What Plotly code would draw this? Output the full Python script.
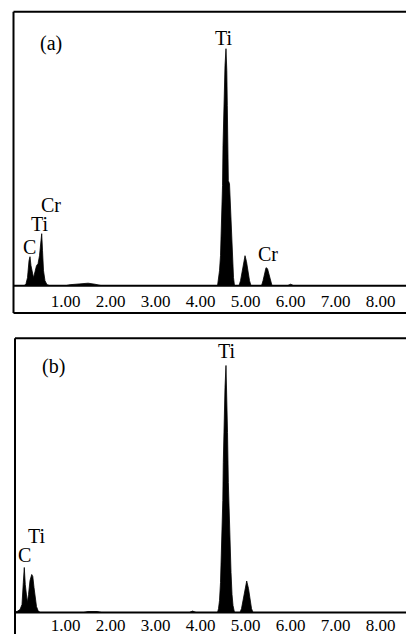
import plotly.graph_objects as go

# ---- data (energy in keV, intensity in arbitrary units) ----
energy_a = [-0.15, 0.08, 0.12, 0.153, 0.187, 0.209, 0.231, 0.264, 0.287, 0.32, 0.353, 0.387,
            0.42, 0.453, 0.469, 0.487, 0.509, 0.542, 0.587, 0.653,
            1.0, 1.1, 1.3, 1.5, 1.65, 1.8,
            4.376, 4.398, 4.42, 4.442, 4.464, 4.487, 4.498, 4.509, 4.527, 4.542, 4.564,
            4.582, 4.593, 4.604, 4.616, 4.642, 4.664, 4.687, 4.709, 4.731, 4.753,
            4.853, 4.887, 4.92, 4.953, 4.987, 5.02, 5.053, 5.087, 5.12,
            5.353, 5.387, 5.42, 5.453, 5.487, 5.52, 5.553, 5.587,
            5.93, 6.0, 6.07, 8.6]
counts_a = [0, 0, 2, 8, 25, 29, 20, 10, 8, 14, 20, 22,
            30, 45, 52, 35, 15, 5, 1, 0,
            0, 1, 2, 2.5, 1.5, 0,
            0, 6, 15, 30, 55, 100, 140, 170, 200, 220, 237,
            215, 180, 140, 105, 102, 80, 50, 22, 8, 0,
            0, 5, 14, 24, 30, 24, 13, 5, 0,
            0, 5, 13, 18, 17, 11, 5, 0,
            0, 1.5, 0, 0]

energy_b = [-0.15, -0.08, -0.013, 0.031, 0.06, 0.082, 0.104, 0.131, 0.149, 0.176, 0.209,
            0.247, 0.271, 0.298, 0.327, 0.353, 0.387, 0.431,
            1.4, 1.5, 1.7, 1.8, 3.75, 3.82, 3.9,
            4.376, 4.398, 4.42, 4.442, 4.464, 4.482, 4.493, 4.504, 4.52, 4.542, 4.564,
            4.582, 4.598, 4.616, 4.631, 4.653, 4.676, 4.698, 4.72, 4.753,
            4.876, 4.909, 4.942, 4.976, 5.024, 5.064, 5.098, 5.131, 5.164, 8.6]
counts_b = [0.5, 1, 3, 8, 30, 45, 28, 12, 10, 18, 32,
            38, 36, 25, 14, 6, 2, 0,
            0, 1, 1, 0, 0, 1.5, 0,
            0, 4, 12, 30, 60, 100, 112, 150, 190, 225, 247,
            220, 180, 130, 100, 70, 40, 18, 7, 0,
            0, 4, 12, 23, 31.5, 24, 13, 4, 0, 0]

tick_vals = [1, 2, 3, 4, 5, 6, 7, 8]
tick_text = ["1.00", "2.00", "3.00", "4.00", "5.00", "6.00", "7.00", "8.00"]

labels_a = [("(a)", 0.676, 242), ("Ti", 4.52, 247.5), ("Cr", 0.676, 80.5),
            ("Ti", 0.431, 61.5), ("C", 0.187, 38.5), ("Cr", 5.498, 31.5)]
labels_b = [("(b)", 0.72, 246.5), ("Ti", 4.587, 261.5), ("Ti", 0.364, 76.5),
            ("C", 0.076, 57.5)]

# ---- layout geometry (pixels) ----
W, H = 406, 634
FONT = "Liberation Serif"
def px_x(p): return p / W
def px_y(p): return 1 - p / H

xr = [-0.1467, 8.564]

fig = go.Figure()
fig.add_trace(go.Scatter(x=energy_a, y=counts_a, mode="lines", fill="tozeroy",
                         fillcolor="black", line=dict(color="black", width=0.8),
                         xaxis="x", yaxis="y", showlegend=False, hoverinfo="skip"))
fig.add_trace(go.Scatter(x=energy_b, y=counts_b, mode="lines", fill="tozeroy",
                         fillcolor="black", line=dict(color="black", width=0.8),
                         xaxis="x2", yaxis="y2", showlegend=False, hoverinfo="skip"))

axis_common = dict(range=xr, tickvals=tick_vals, ticktext=tick_text, ticks="",
                   showgrid=False, zeroline=False, showline=False,
                   tickfont=dict(family=FONT, size=17, color="black"),
                   fixedrange=True)

fig.update_layout(
    width=W, height=H, margin=dict(l=0, r=0, t=0, b=0),
    paper_bgcolor="white", plot_bgcolor="white",
    xaxis=dict(domain=[px_x(14), 1], anchor="y", ticklabelstandoff=3, **axis_common),
    yaxis=dict(domain=[px_y(285.7), px_y(11.7)], range=[0, 274], visible=False),
    xaxis2=dict(domain=[px_x(14), 1], anchor="y2", ticklabelstandoff=0, **axis_common),
    yaxis2=dict(domain=[px_y(612.5), px_y(338.3)], range=[0, 274.2], visible=False),
)

lw = 2
shapes = []
for (x0, y0, x1, y1) in [(13.5, 11.7, 13.5, 313), (13.5, 11.7, 410, 11.7),
                         (13.5, 313, 410, 313), (13.5, 285.7, 410, 285.7),
                         (15, 338.3, 15, 640), (15, 338.3, 410, 338.3),
                         (15, 612.5, 410, 612.5)]:
    shapes.append(dict(type="line", xref="paper", yref="paper",
                       x0=px_x(x0), x1=px_x(x1), y0=px_y(y0), y1=px_y(y1),
                       line=dict(color="black", width=lw)))
fig.update_layout(shapes=shapes)

ann = []
for t, x, y in labels_a:
    ann.append(dict(text=t, x=x, y=y, xref="x", yref="y", showarrow=False,
                    font=dict(family=FONT, size=20, color="black")))
for t, x, y in labels_b:
    ann.append(dict(text=t, x=x, y=y, xref="x2", yref="y2", showarrow=False,
                    font=dict(family=FONT, size=20, color="black")))
fig.update_layout(annotations=ann)

fig.write_html("out.html", config={"displayModeBar": False},
               post_script="document.body.style.margin='0';document.body.style.overflow='hidden';")
